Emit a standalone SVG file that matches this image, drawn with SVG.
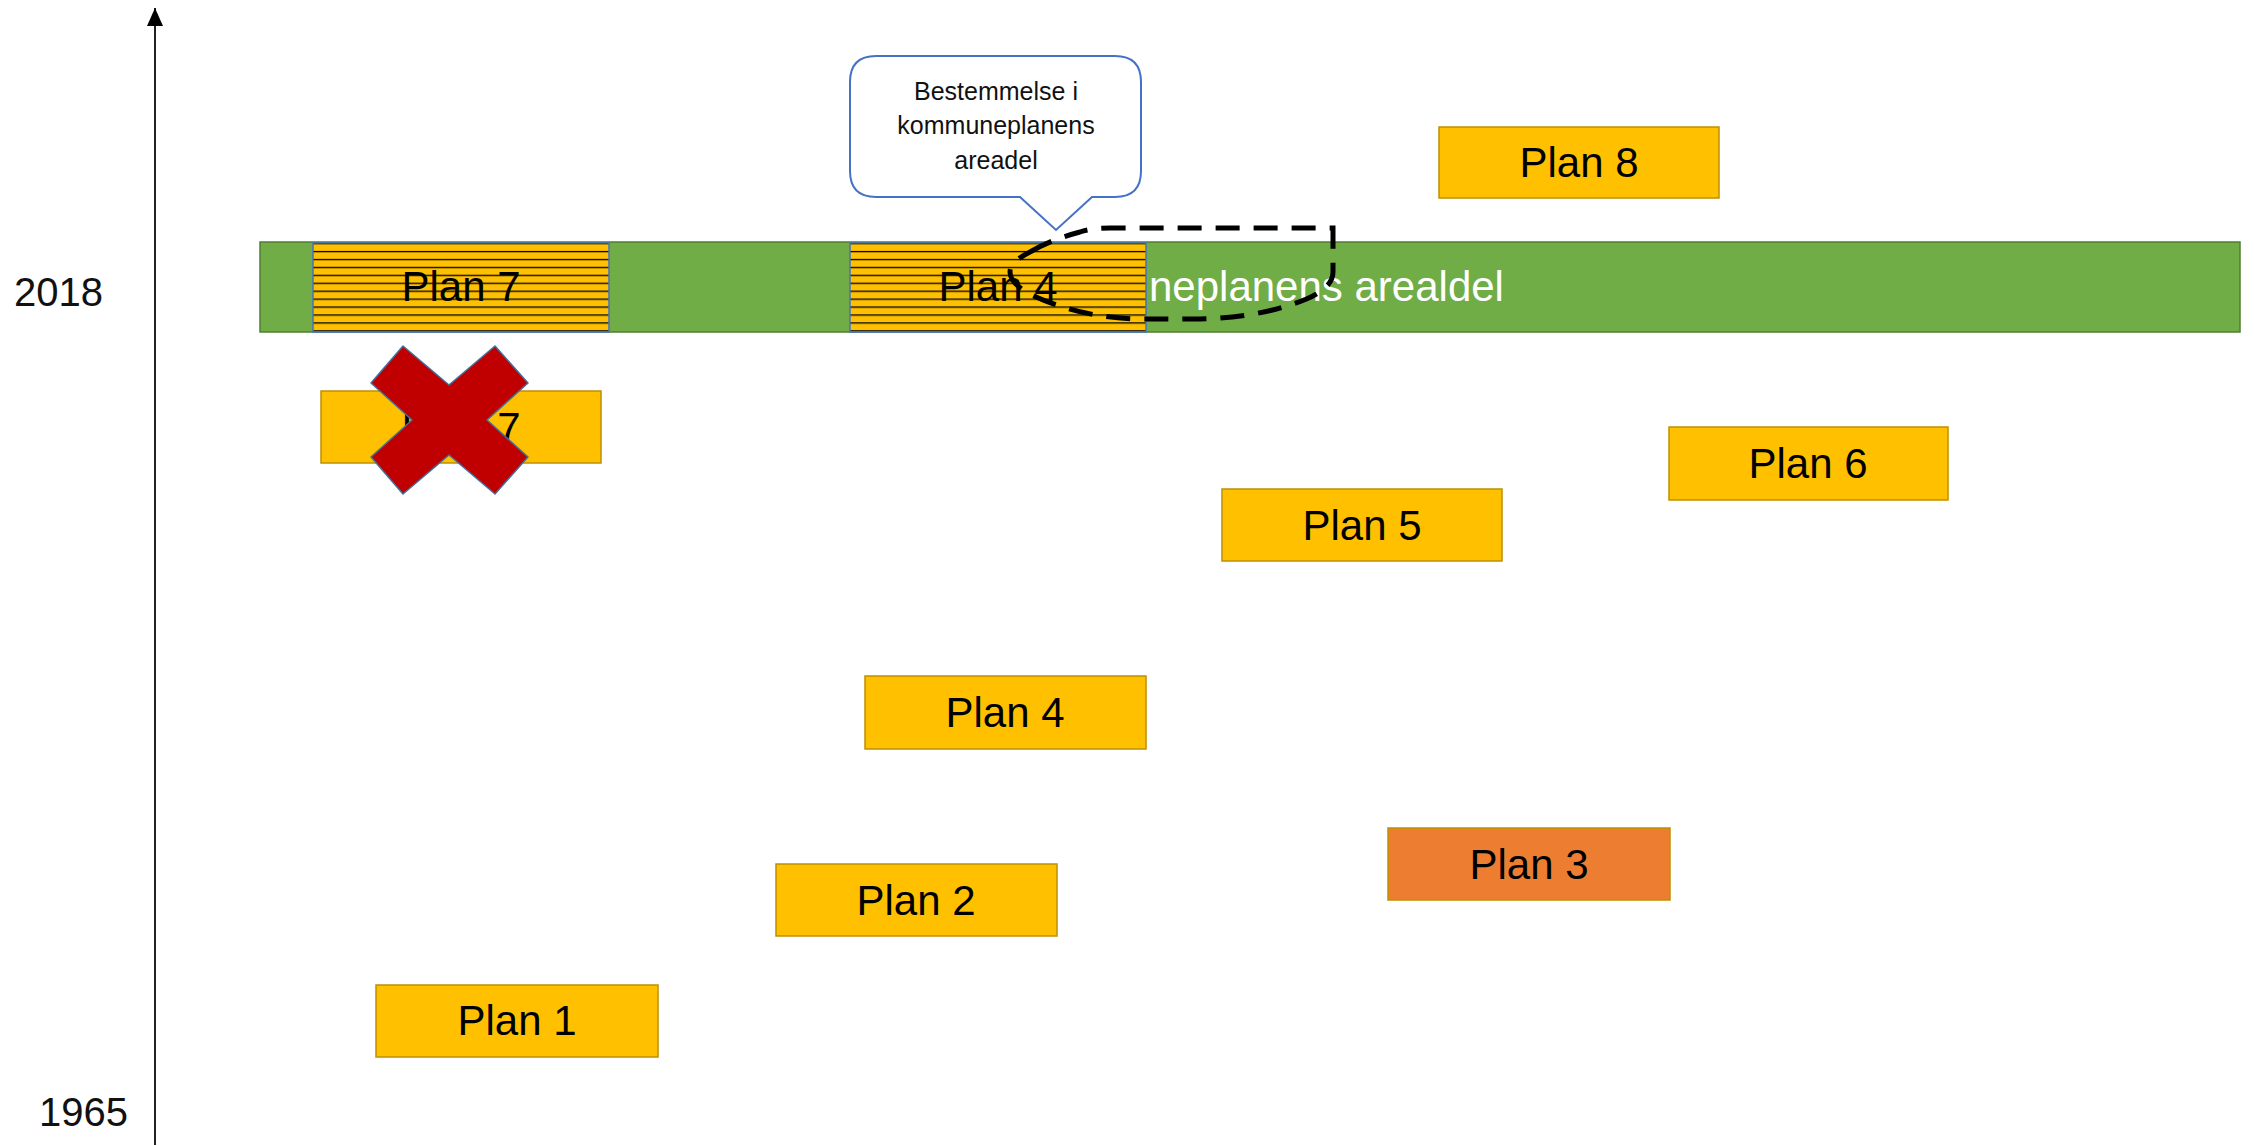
<svg xmlns="http://www.w3.org/2000/svg" width="2254" height="1146" viewBox="0 0 2254 1146">
  <style>
    .plan { fill: #FFC000; stroke: #BF9000; stroke-width: 1.5; }
    .plan3 { fill: #ED7D31; stroke: #BF9000; stroke-width: 1.5; }
    .lbl { font-family: "Liberation Sans", Arial, sans-serif; font-size: 42px; fill: #000; text-anchor: middle; }
    .year { font-family: "Liberation Sans", Arial, sans-serif; font-size: 40px; fill: #111; }
    .hatch { fill: url(#hlines); stroke: #4472C4; stroke-width: 1.5; }
    .call { font-family: "Liberation Sans", Arial, sans-serif; font-size: 25px; fill: #111; text-anchor: middle; }
  </style>
  <defs>
    <pattern id="hlines" patternUnits="userSpaceOnUse" x="0" y="243" width="20" height="7.93">
      <rect x="0" y="0" width="20" height="7.93" fill="#FFC000"/>
      <rect x="0" y="-1.3" width="20" height="2.6" fill="#000"/>
    </pattern>
    <marker id="arr" viewBox="0 0 18 16" refX="18" refY="8" markerWidth="18" markerHeight="16" markerUnits="userSpaceOnUse" orient="auto">
      <path d="M0,0 L18,8 L0,16 Z" fill="#000"/>
    </marker>
  </defs>
  <rect width="2254" height="1146" fill="#fff"/>

  <g id="connectors">
    <line x1="155" y1="1145" x2="155" y2="8" stroke="#222" stroke-width="2" marker-end="url(#arr)"/>
  </g>

  <g id="year-2018"><text class="year" x="14" y="306">2018</text></g>
  <g id="year-1965"><text class="year" x="39" y="1126">1965</text></g>

  <g id="kommuneplan">
    <rect x="260" y="242" width="1980" height="90" fill="#70AD47" stroke="#507E32" stroke-width="1.5"/>
    <text x="1149" y="301" font-family="'Liberation Sans', Arial, sans-serif" font-size="42" fill="#fff">neplanens arealdel</text>
  </g>

  <g id="plan7-hatched">
    <rect class="hatch" x="313" y="243" width="296" height="89"/>
    <text class="lbl" x="461" y="301">Plan 7</text>
  </g>
  <g id="plan4-hatched">
    <rect class="hatch" x="850" y="243" width="296" height="89"/>
    <text class="lbl" x="998" y="301">Plan 4</text>
  </g>

  <g id="plan8"><rect class="plan" x="1439" y="127" width="280" height="71"/><text class="lbl" x="1579" y="177">Plan 8</text></g>
  <g id="plan7"><rect class="plan" x="321" y="391" width="280" height="72"/><text class="lbl" x="461" y="442">Plan 7</text></g>
  <g id="plan6"><rect class="plan" x="1669" y="427" width="279" height="73"/><text class="lbl" x="1808" y="478">Plan 6</text></g>
  <g id="plan5"><rect class="plan" x="1222" y="489" width="280" height="72"/><text class="lbl" x="1362" y="540">Plan 5</text></g>
  <g id="plan4"><rect class="plan" x="865" y="676" width="281" height="73"/><text class="lbl" x="1005" y="727">Plan 4</text></g>
  <g id="plan3"><rect class="plan3" x="1388" y="828" width="282" height="72"/><text class="lbl" x="1529" y="879">Plan 3</text></g>
  <g id="plan2"><rect class="plan" x="776" y="864" width="281" height="72"/><text class="lbl" x="916" y="915">Plan 2</text></g>
  <g id="plan1"><rect class="plan" x="376" y="985" width="282" height="72"/><text class="lbl" x="517" y="1035">Plan 1</text></g>

  <g id="cross">
    <polygon points="403,346 449,385 495,346 528,383 487,420 528,457 495,494 449,455 403,494 371,457 412,420 371,383" fill="#C00000" stroke="#41719C" stroke-width="1.5" stroke-linejoin="round"/>
  </g>

  <g id="dashed-outline">
    <path d="M1030,252 Q1050,240 1080,232 Q1092,228 1110,228 L1333,228 L1333,272 Q1333,292 1290,305 Q1250,318 1200,319 L1140,319 Q1095,318 1060,306 Q1010,290 1010,272 Q1010,262 1030,252 Z" fill="none" stroke="#000" stroke-width="5" stroke-dasharray="24 14"/>
  </g>

  <g id="callout">
    <path d="M876,56 L1115,56 Q1141,56 1141,82 L1141,171 Q1141,197 1115,197 L1092,197 L1056,230 L1020,197 L876,197 Q850,197 850,171 L850,82 Q850,56 876,56 Z" fill="#fff" stroke="#4472C4" stroke-width="2"/>
    <text class="call" x="996" y="100">Bestemmelse i</text>
    <text class="call" x="996" y="134">kommuneplanens</text>
    <text class="call" x="996" y="169">areadel</text>
  </g>
</svg>
